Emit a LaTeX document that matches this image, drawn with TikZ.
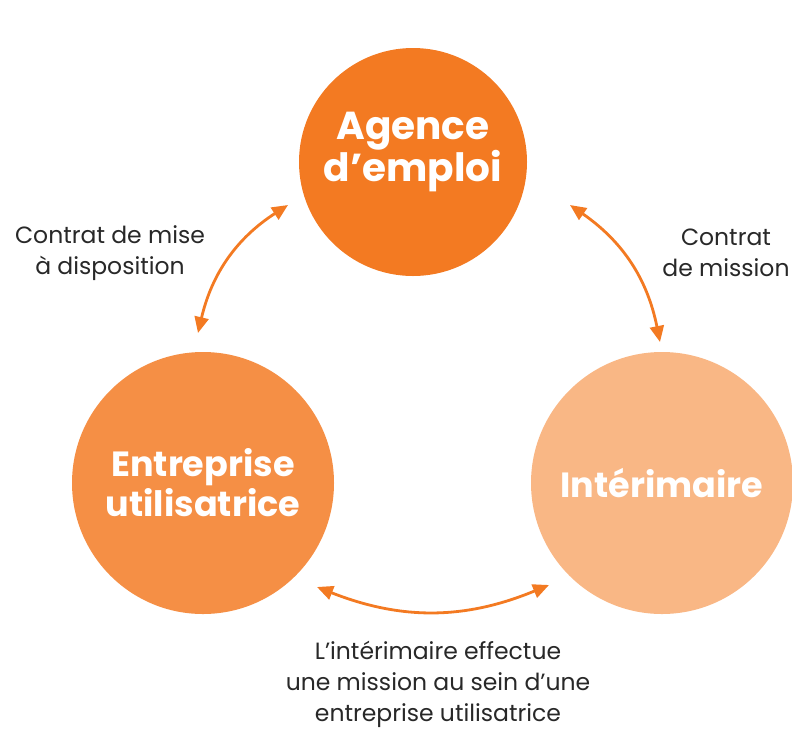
\documentclass[tikz,border=0pt]{standalone}
\usepackage{fontspec}
\setmainfont{Poppins}
\usetikzlibrary{arrows.meta}
\definecolor{topc}{RGB}{243,122,34}
\definecolor{leftc}{RGB}{245,143,69}
\definecolor{rightc}{RGB}{249,183,133}
\definecolor{txt}{RGB}{40,40,40}
\tikzset{
  bubble/.style={circle,inner sep=0pt,text=white,align=center},
  lbl/.style={text=txt,font=\fontsize{23.5}{31}\selectfont,align=center,inner sep=0pt},
  link/.style={draw=topc,line width=2.8pt,{Triangle[length=16pt,width=14pt]}-{Triangle[length=16pt,width=14pt]}}
}
\begin{document}
\begin{tikzpicture}[x=1pt,y=-1pt]
\useasboundingbox (0,0) rectangle (792,729);
\node[bubble,fill=topc,minimum size=228pt] (agence) at (413,162) {};
\node[text=white,align=center,inner sep=0pt,font=\fontsize{39}{34}\selectfont\bfseries] (agencetxt) at (413,152) {Agence\\d’emploi};
\node[bubble,fill=leftc,minimum size=262pt,font=\fontsize{35}{40}\selectfont\bfseries] (entreprise) at (203,483) {Entreprise\\utilisatrice};
\node[bubble,fill=rightc,minimum size=262pt,font=\fontsize{35}{40}\selectfont\bfseries] (interim) at (662,483) {Intérimaire};
\coordinate (a1) at (198,333);
\coordinate (a2) at (288,205);
\coordinate (b1) at (570,205);
\coordinate (b2) at (660,342);
\coordinate (c1) at (317,587);
\coordinate (c2) at (549,585);
\draw[link] (a1) to[bend left=22] (a2);
\draw[link] (b1) to[bend left=22] (b2);
\draw[link] (c1) to[bend right=22] (c2);
\node[lbl] (l1) at (110,253) {Contrat de mise\\à disposition};
\node[lbl] (l2) at (726,253) {Contrat\\de mission};
\node[lbl] (l3) at (438,684) {L’intérimaire effectue\\une mission au sein d’une\\entreprise utilisatrice};
\end{tikzpicture}
\end{document}
